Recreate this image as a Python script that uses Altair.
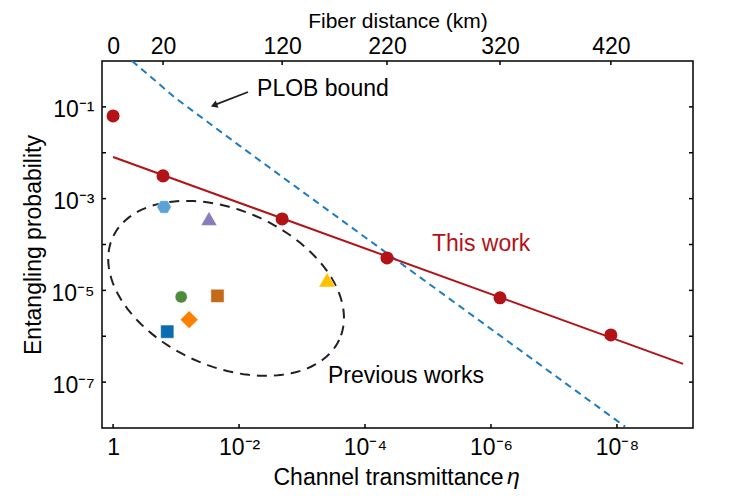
import numpy as np
import pandas as pd
import altair as alt

# plot area in px
W, H = 591, 367
FONT = "Liberation Sans"
FS = 23

# top axis: fiber distance and the transmittance it sits at
dist_km = [0, 20, 120, 220, 320, 420]
dist_eta = [1.0, 1.61e-1, 2.07e-3, 4.48e-5, 7.19e-7, 1.25e-8]

# this work (measured points)
this_p = [6.34e-2, 3.13e-3, 3.6e-4, 5.1e-5, 6.9e-6, 1.07e-6]

# this work fit line
fit_eta = [1.0, 8.9e-10]
fit_p = [8.1e-3, 2.5e-7]

# PLOB bound
plob_eta = [0.5, 0.1, 1e-2, 1e-3, 1e-4, 1e-5, 1e-6, 1e-7, 7.4e-9]
plob_p = [1.0, 0.152, 1.45e-2, 1.44e-3, 1.44e-4, 1.44e-5, 1.44e-6, 1.44e-7, 1.07e-8]

# previous works
prev_eta = [0.155, 0.030, 0.083, 0.022, 0.062, 0.138, 4.0e-4]
prev_p = [6.6e-4, 3.7e-4, 7.2e-6, 7.6e-6, 2.3e-6, 1.26e-6, 1.7e-5]
hexagon = "M-1,0L-0.5,-0.866L0.5,-0.866L1,0L0.5,0.866L-0.5,0.866Z"
prev_shape = [hexagon, "triangle-up", "circle", "square", "diamond", "square", "triangle-up"]
prev_color = ["#5ba3d6", "#8a7cb9", "#4f8b3a", "#c36b1b", "#ff8000", "#0c6cb0", "#ffc000"]
prev_size = [210, 260, 150, 175, 320, 175, 280]

# axis ticks / labels
x_ticks = [1.0, 1e-2, 1e-4, 1e-6, 1e-8]
x_tick_text = ["1", "10\u207b\u00b2", "10\u207b\u2074", "10\u207b\u2076", "10\u207b\u2078"]
y_ticks = [1e-1, 1e-2, 1e-3, 1e-4, 1e-5, 1e-6, 1e-7]
y_lab_vals = [1e-1, 1e-3, 1e-5, 1e-7]
y_lab_text = ["10\u207b\u00b9", "10\u207b\u00b3", "10\u207b\u2075", "10\u207b\u2077"]

# "Previous works" ellipse (log-space centre and half-axis vectors)
ell_center = (-1.794, -4.956)
ell_u = (-1.795, -1.125)
ell_v = (0.530, -1.540)

# annotations
arrow_eta = [7.2e-3, 0.0232]
arrow_p = [0.211, 0.113]
head_eta = [0.0250]
head_p = [0.108]


def label_expr(vals, texts):
    expr = "''"
    for v, t in zip(vals, texts):
        expr = f"abs(log(datum.value)/LN10 - ({np.log10(v):.4f})) < 0.01 ? '{t}' : ({expr})"
    return expr


xs = alt.Scale(type="log", domain=[6.2e-10, 1.5], reverse=True, nice=False, zero=False)
ys = alt.Scale(type="log", domain=[1e-8, 1.0], nice=False, zero=False)

title_style = dict(titleFontSize=FS, titleFontWeight="normal", titleColor="black",
                   titleFont=FONT, labelFont=FONT, labelFontSize=FS, labelColor="black",
                   domain=False, ticks=False, tickSize=0, grid=False)

bottom_axis = alt.Axis(orient="bottom", values=x_ticks, labelExpr=label_expr(x_ticks, x_tick_text),
                       labelPadding=8, labelBaseline="top", title="Channel transmittance",
                       titleX=171, titleY=56, titleAlign="left", titleBaseline="alphabetic",
                       **title_style)
top_style = dict(title_style, titleFontSize=21)
top_axis = alt.Axis(orient="top", values=dist_eta,
                    labelExpr=label_expr(dist_eta, [str(d) for d in dist_km]),
                    labelPadding=8, labelBaseline="alphabetic", title="Fiber distance (km)",
                    titleX=W / 2, titleY=-34, titleAlign="center", titleBaseline="alphabetic",
                    **top_style)
left_axis = alt.Axis(orient="left", values=y_lab_vals, labelExpr=label_expr(y_lab_vals, y_lab_text),
                     labelPadding=8, labelBaseline="middle", labelOffset=3,
                     title="Entangling probability", titleX=-69, titleY=H / 2, titleAngle=270,
                     titleAlign="center", titleBaseline="middle", **title_style)

ticks_x = pd.DataFrame({"eta": x_ticks})
ticks_top = pd.DataFrame({"eta": dist_eta[1:]})
ticks_y = pd.DataFrame({"p": y_ticks})

tick_style = dict(color="black", strokeWidth=1.5)
bottom_ticks = alt.Chart(ticks_x).mark_rule(**tick_style).encode(
    x=alt.X("eta:Q", scale=xs, axis=bottom_axis), y=alt.value(H), y2=alt.value(H - 4))
top_ticks = alt.Chart(ticks_top).mark_rule(**tick_style).encode(
    x=alt.X("eta:Q", scale=xs, axis=top_axis), y=alt.value(0), y2=alt.value(4))
left_ticks = alt.Chart(ticks_y).mark_rule(**tick_style).encode(
    y=alt.Y("p:Q", scale=ys, axis=left_axis), x=alt.value(0), x2=alt.value(4))
right_ticks = alt.Chart(ticks_y).mark_rule(**tick_style).encode(
    y=alt.Y("p:Q", scale=ys, axis=None), x=alt.value(W), x2=alt.value(W - 4))


def xy(df, xf="eta", yf="p"):
    return dict(x=alt.X(f"{xf}:Q", scale=xs, axis=None), y=alt.Y(f"{yf}:Q", scale=ys, axis=None))


t = np.linspace(0, 2 * np.pi, 145)
ell = pd.DataFrame({
    "i": np.arange(len(t)),
    "eta": 10 ** (ell_center[0] + ell_u[0] * np.cos(t) + ell_v[0] * np.sin(t)),
    "p": 10 ** (ell_center[1] + ell_u[1] * np.cos(t) + ell_v[1] * np.sin(t)),
})
ellipse = alt.Chart(ell).mark_line(color="#231f20", strokeWidth=2, strokeDash=[10, 7]).encode(
    order="i:Q", **xy(ell))

plob_df = pd.DataFrame({"eta": plob_eta, "p": plob_p})
plob = alt.Chart(plob_df).mark_line(color="#1a7cc0", strokeWidth=2, strokeDash=[7, 5]).encode(**xy(plob_df))

fit_df = pd.DataFrame({"eta": fit_eta, "p": fit_p})
fit = alt.Chart(fit_df).mark_line(color="#b31217", strokeWidth=2).encode(**xy(fit_df))

this_df = pd.DataFrame({"eta": dist_eta, "p": this_p})
this_pts = alt.Chart(this_df).mark_point(filled=True, opacity=1, color="#b31217", size=170).encode(**xy(this_df))

prev_df = pd.DataFrame({"eta": prev_eta, "p": prev_p, "shape": prev_shape,
                        "color": prev_color, "size": prev_size})
prev_pts = alt.Chart(prev_df).mark_point(filled=True, opacity=1, stroke="white", strokeWidth=0.5).encode(
    shape=alt.Shape("shape:N", scale=None), color=alt.Color("color:N", scale=None),
    size=alt.Size("size:Q", scale=None), **xy(prev_df))

arrow_df = pd.DataFrame({"eta": arrow_eta, "p": arrow_p})
arrow = alt.Chart(arrow_df).mark_line(color="#231f20", strokeWidth=1.8).encode(**xy(arrow_df))
head_df = pd.DataFrame({"eta": head_eta, "p": head_p})
head = alt.Chart(head_df).mark_point(shape="triangle-up", angle=249, filled=True, opacity=1,
                                     color="#231f20", size=60).encode(**xy(head_df))

notes = pd.DataFrame({
    "eta": [5.18e-3, 8.65e-6, 3.87e-4],
    "p": [0.173, 7.08e-5, 9.66e-8],
    "text": ["PLOB bound", "This work", "Previous works"],
    "color": ["black", "#b31217", "black"],
})
note_text = alt.Chart(notes).mark_text(align="left", baseline="alphabetic", fontSize=FS, font=FONT).encode(
    text="text:N", color=alt.Color("color:N", scale=None), **xy(notes))

eta_df = pd.DataFrame({"eta": [5.57e-7], "p": [6.08e-10], "text": ["\u03b7"]})
eta_sym = alt.Chart(eta_df).mark_text(align="left", baseline="alphabetic", fontSize=FS, font=FONT,
                                      fontStyle="italic", color="black").encode(text="text:N", **xy(eta_df))

chart = alt.layer(
    bottom_ticks, top_ticks, left_ticks, right_ticks,
    ellipse, plob, fit, this_pts, prev_pts, arrow, head, note_text, eta_sym,
).resolve_axis(x="independent", y="independent").properties(
    width=W, height=H,
    autosize=alt.AutoSizeParams(type="none"),
    padding={"left": 94, "top": 53, "right": 30, "bottom": 61},
).configure(font=FONT).configure_view(stroke="black", strokeWidth=1.5)

chart.save("out.html", embed_options={"renderer": "svg", "actions": False})
